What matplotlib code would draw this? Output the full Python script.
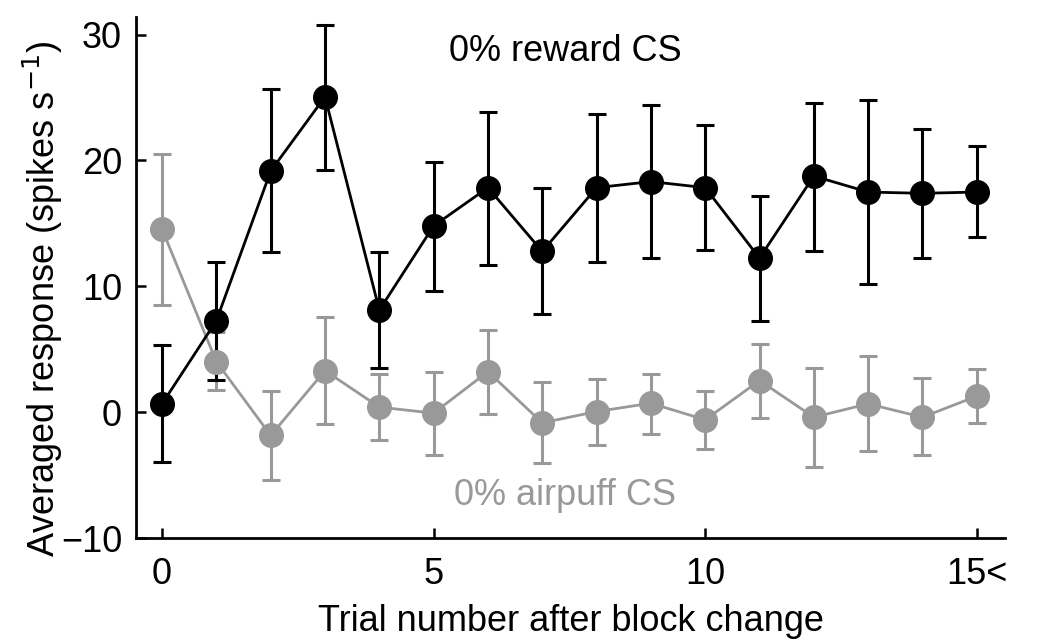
import matplotlib.pyplot as plt
import numpy as np

plt.rcParams['font.family'] = ['Liberation Sans', 'DejaVu Sans']

trials = np.arange(16)
xtick_pos = [0, 5, 10, 15]
xtick_labels = ['0', '5', '10', '15<']

# 0% reward CS (black)
reward_mean = [0.66, 7.27, 19.16, 25.06, 8.11, 14.80, 17.84, 12.77,
               17.84, 18.32, 17.84, 12.24, 18.76, 17.49, 17.39, 17.49]
reward_hi = [5.34, 11.94, 25.64, 30.79, 12.69, 19.87, 23.87, 17.84,
             23.66, 24.42, 22.78, 17.18, 24.58, 24.77, 22.47, 21.14]
reward_lo = [-3.97, 2.56, 12.74, 19.24, 3.51, 9.64, 11.68, 7.80,
             11.94, 12.24, 12.90, 7.27, 12.82, 10.17, 12.21, 13.93]

# 0% airpuff CS (gray)
airpuff_mean = [14.54, 4.01, -1.85, 3.30, 0.40, -0.08, 3.22, -0.85,
                0.05, 0.71, -0.61, 2.51, -0.40, 0.66, -0.40, 1.27]
airpuff_hi = [20.54, 6.39, 1.66, 7.53, 3.04, 3.17, 6.53, 2.38,
              2.64, 3.01, 1.66, 5.42, 3.49, 4.49, 2.70, 3.43]
airpuff_lo = [8.51, 1.77, -5.42, -0.93, -2.25, -3.44, -0.13, -4.02,
              -2.59, -1.70, -2.91, -0.45, -4.36, -3.12, -3.44, -0.90]

gray = '#999999'
fs = 26

fig = plt.figure(figsize=(10.5, 6.44), dpi=100)
ax = fig.add_axes([136/1050, 1 - 538/644, (1005-136)/1050, (538-17)/644])

for mean, lo, hi, col in [(airpuff_mean, airpuff_lo, airpuff_hi, gray),
                          (reward_mean, reward_lo, reward_hi, 'black')]:
    mean = np.array(mean)
    yerr = [mean - np.array(lo), np.array(hi) - mean]
    ax.errorbar(trials, mean, yerr=yerr, color=col, marker='o', markersize=17,
                linewidth=2.0, elinewidth=2.2, capsize=6.5, capthick=2.2)

ax.text(7.42, 28.65, '0% reward CS', ha='center', va='center', fontsize=fs, color='black')
ax.text(7.42, -6.64, '0% airpuff CS', ha='center', va='center', fontsize=fs, color=gray)

ax.set_xlim(-0.48, 15.52)
ax.set_ylim(-10, 31.4)
ax.set_xticks(xtick_pos)
ax.set_xticklabels(xtick_labels)
ax.set_yticks([-10, 0, 10, 20, 30])
ax.tick_params(direction='in', length=7, width=1.8, labelsize=fs, pad=10)
ax.tick_params(axis='x', pad=14)
for s in ['top', 'right']:
    ax.spines[s].set_visible(False)
for s in ['left', 'bottom']:
    ax.spines[s].set_linewidth(2.0)
ax.set_xlabel('Trial number after block change', fontsize=fs, labelpad=8)
ax.set_ylabel('Averaged response (spikes s$^{-1}$)', fontsize=fs)
ax.yaxis.set_label_coords(-0.082, 0.46)

fig.savefig('out.png', dpi=100)
